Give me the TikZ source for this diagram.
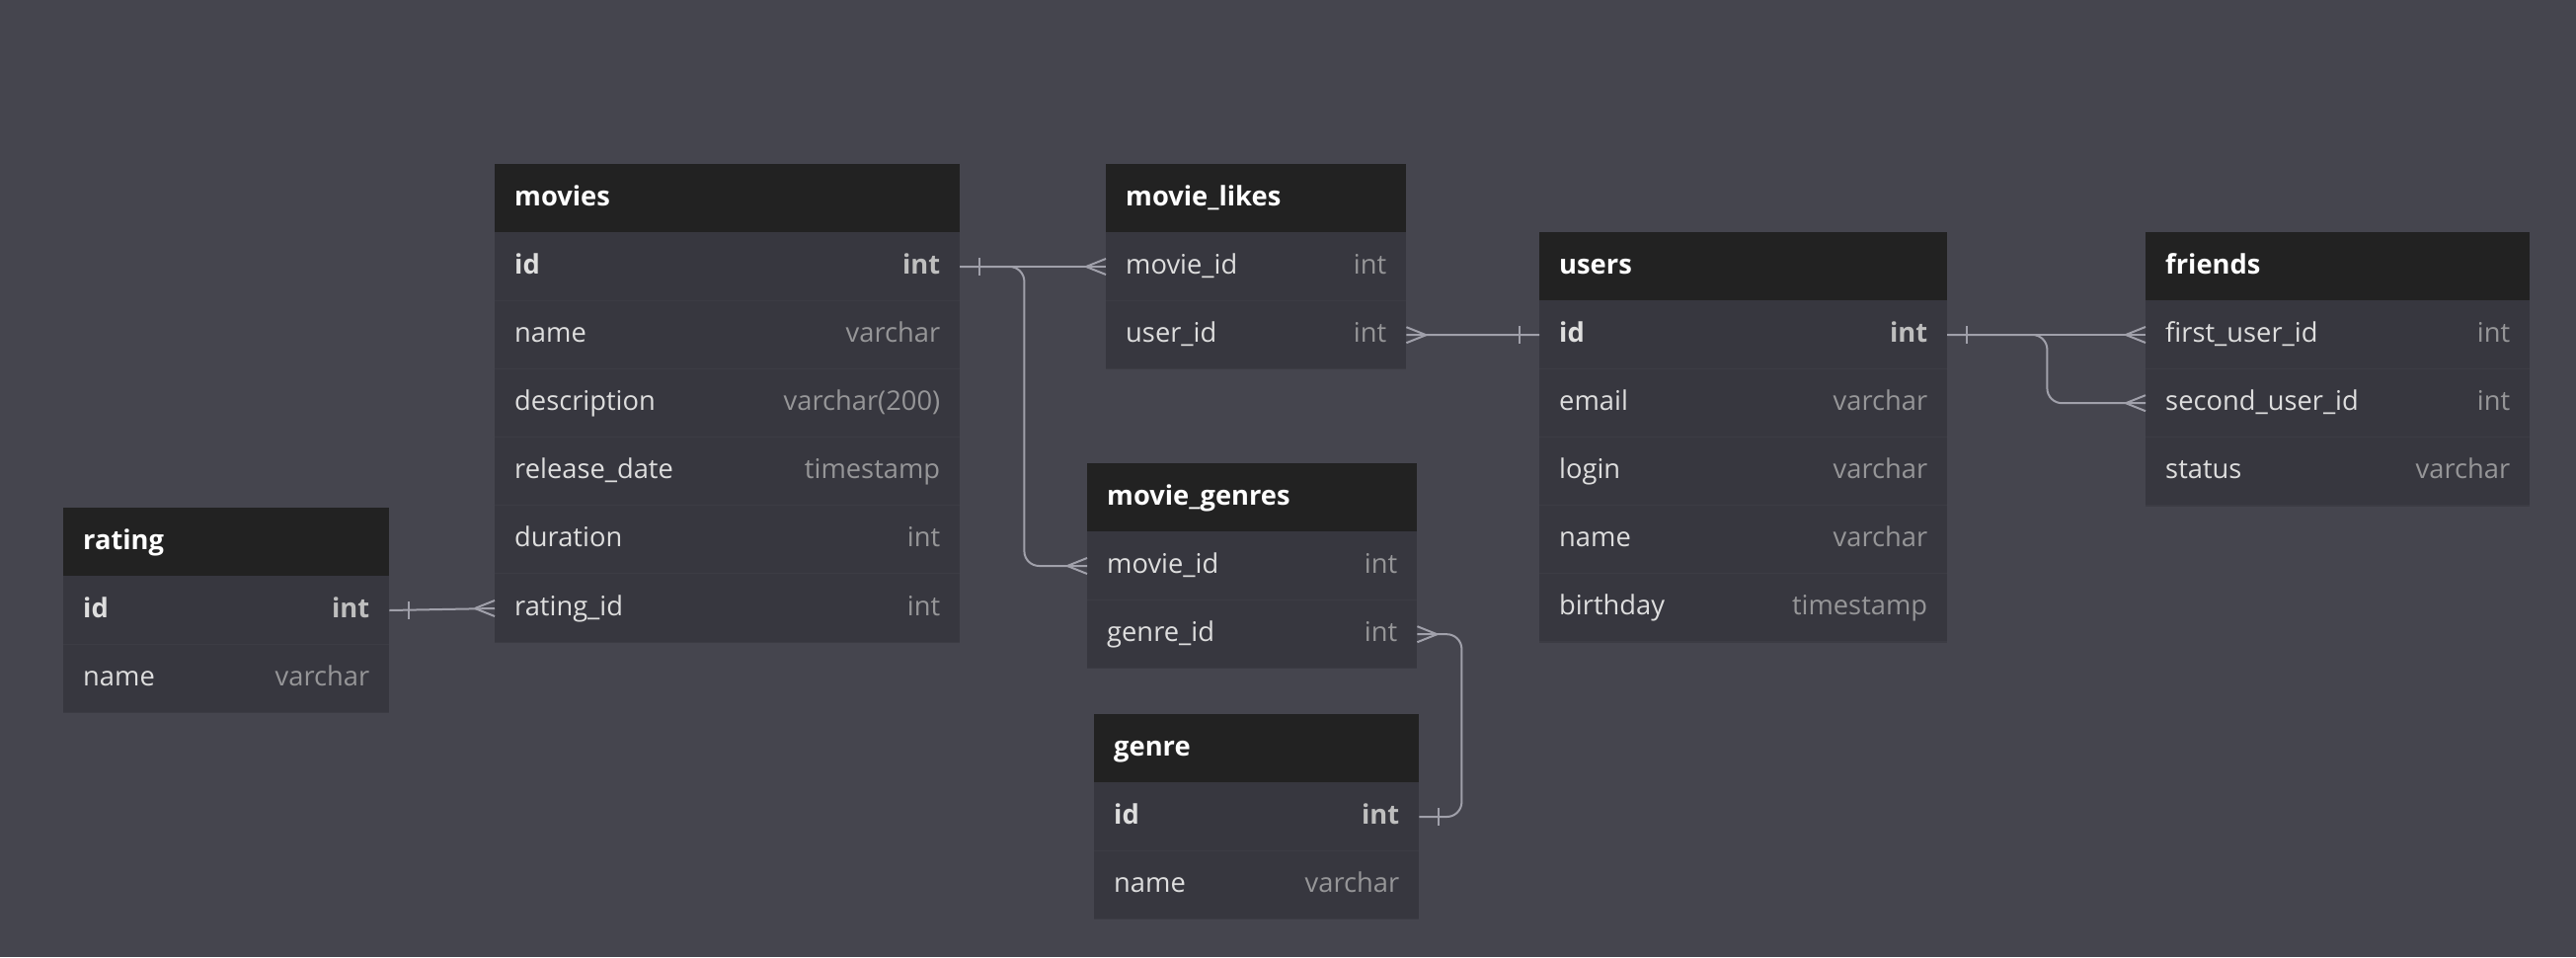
\documentclass[tikz,border=0pt]{standalone}
\usepackage{fontspec}
\setmainfont{Open Sans}
\usetikzlibrary{calc}
\definecolor{bgc}{RGB}{69,69,78}
\definecolor{hdrc}{RGB}{34,34,34}
\definecolor{bodyc}{RGB}{55,55,63}
\definecolor{sepc}{RGB}{60,60,68}
\definecolor{namec}{RGB}{222,222,222}
\definecolor{typec}{RGB}{150,150,152}
\definecolor{keytypec}{RGB}{190,190,190}
\definecolor{relc}{RGB}{160,160,170}
\tikzset{
  hdr/.style={fill=hdrc, inner xsep=20pt, inner ysep=0pt, minimum height=69.2pt,
    text height=15pt, text depth=0pt, anchor=north west, text=white,
    font=\fontsize{27.3}{32}\selectfont\bfseries},
  frow/.style={fill=bodyc, inner xsep=20pt, inner ysep=0pt, minimum height=69.2pt,
    text height=14pt, text depth=0pt, anchor=north west, text=namec,
    font=\fontsize{27.3}{32}\selectfont,
    path picture={\draw[sepc, line width=2pt] (path picture bounding box.south west) -- (path picture bounding box.south east);}},
  rel/.style={draw=relc, line width=2pt},
}
\newcommand\tblhead[5]{\node[hdr] (#1) at (#2,#3) {\hbox to \dimexpr#4pt-40pt\relax{#5\hfill}};}
\newcommand\tblrow[6]{\node[frow] (#1) at (#2,#3) {\hbox to \dimexpr#4pt-40pt\relax{#5\hfill\textcolor{typec}{#6}}};}
\newcommand\tblkey[6]{\node[frow] (#1) at (#2,#3) {\hbox to \dimexpr#4pt-40pt\relax{\bfseries #5\hfill\textcolor{keytypec}{#6}}};}
\newcommand\crowW[1]{\draw[rel] ([xshift=-20pt]#1.west) -- ([yshift=8pt]#1.west) ([xshift=-20pt]#1.west) -- ([yshift=-8pt]#1.west);}
\newcommand\crowE[1]{\draw[rel] ([xshift=20pt]#1.east) -- ([yshift=8pt]#1.east) ([xshift=20pt]#1.east) -- ([yshift=-8pt]#1.east);}
\newcommand\barW[1]{\draw[rel] ([xshift=-20pt,yshift=9pt]#1.west) -- ([xshift=-20pt,yshift=-9pt]#1.west);}
\newcommand\barE[1]{\draw[rel] ([xshift=20pt,yshift=9pt]#1.east) -- ([xshift=20pt,yshift=-9pt]#1.east);}
\begin{document}
\begin{tikzpicture}[x=1pt,y=-1pt]
\fill[bgc] (0,0) rectangle (2609,969);
\useasboundingbox (0,0) rectangle (2609,969);
% movies
\tblhead{movies}{501}{166}{471}{movies}
\tblkey{movies-id}{501}{235.2}{471}{id}{int}
\tblrow{movies-name}{501}{304.4}{471}{name}{varchar}
\tblrow{movies-desc}{501}{373.6}{471}{description}{varchar(200)}
\tblrow{movies-rel}{501}{442.8}{471}{release\_date}{timestamp}
\tblrow{movies-dur}{501}{512}{471}{duration}{int}
\tblrow{movies-rating}{501}{581.2}{471}{rating\_id}{int}
% movie_likes
\tblhead{likes}{1120}{166}{304}{movie\_likes}
\tblrow{likes-movie}{1120}{235.2}{304}{movie\_id}{int}
\tblrow{likes-user}{1120}{304.4}{304}{user\_id}{int}
% users
\tblhead{users}{1559}{235}{413}{users}
\tblkey{users-id}{1559}{304.2}{413}{id}{int}
\tblrow{users-email}{1559}{373.4}{413}{email}{varchar}
\tblrow{users-login}{1559}{442.6}{413}{login}{varchar}
\tblrow{users-name}{1559}{511.8}{413}{name}{varchar}
\tblrow{users-bday}{1559}{581}{413}{birthday}{timestamp}
% friends
\tblhead{friends}{2173}{235}{389}{friends}
\tblrow{fr-first}{2173}{304.2}{389}{first\_user\_id}{int}
\tblrow{fr-second}{2173}{373.4}{389}{second\_user\_id}{int}
\tblrow{fr-status}{2173}{442.6}{389}{status}{varchar}
% rating
\tblhead{rating}{64}{514}{330}{rating}
\tblkey{rating-id}{64}{583.2}{330}{id}{int}
\tblrow{rating-name}{64}{652.4}{330}{name}{varchar}
% movie_genres
\tblhead{mg}{1101}{469}{334}{movie\_genres}
\tblrow{mg-movie}{1101}{538.2}{334}{movie\_id}{int}
\tblrow{mg-genre}{1101}{607.4}{334}{genre\_id}{int}
% genre
\tblhead{genre}{1108}{723}{329}{genre}
\tblkey{genre-id}{1108}{792.2}{329}{id}{int}
\tblrow{genre-name}{1108}{861.4}{329}{name}{varchar}
% relations
\draw[rel] (movies-id.east) -- (likes-movie.west);
\barE{movies-id}\crowW{likes-movie}
\draw[rel, rounded corners=15pt] (movies-id.east) -- ([xshift=65pt]movies-id.east) |- (mg-movie.west);
\crowW{mg-movie}
\draw[rel] (likes-user.east) -- (users-id.west);
\crowE{likes-user}\barW{users-id}
\draw[rel] (users-id.east) -- (fr-first.west);
\barE{users-id}\crowW{fr-first}
\draw[rel, rounded corners=15pt] (users-id.east) -- ([xshift=101pt]users-id.east) |- (fr-second.west);
\crowW{fr-second}
\draw[rel] (rating-id.east) -- (movies-rating.west);
\barE{rating-id}\crowW{movies-rating}
\draw[rel, rounded corners=15pt] (mg-genre.east) -- ([xshift=45pt]mg-genre.east) |- (genre-id.east);
\crowE{mg-genre}\barE{genre-id}
\end{tikzpicture}
\end{document}
